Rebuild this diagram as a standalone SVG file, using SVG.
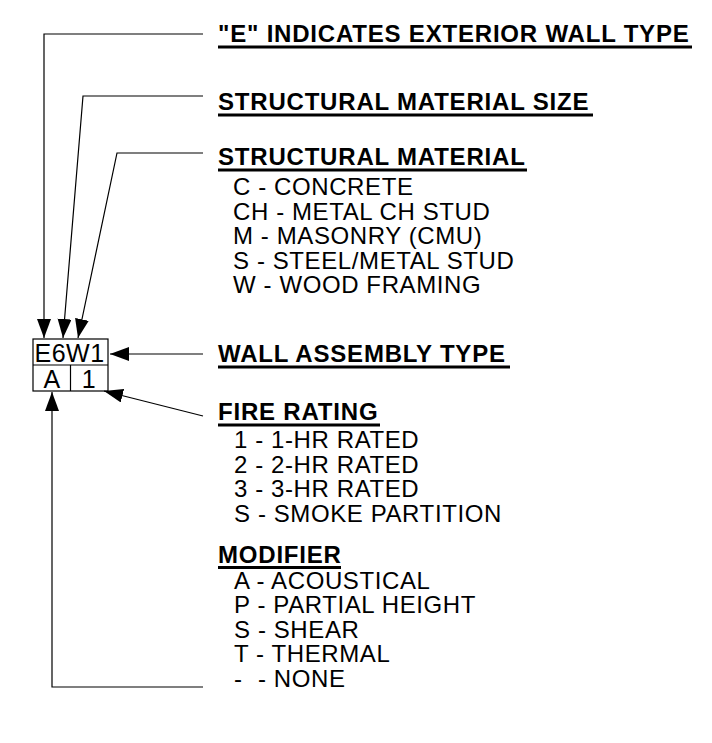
<svg xmlns="http://www.w3.org/2000/svg" width="712" height="743" viewBox="0 0 712 743">
<style>
.h{font-family:"Liberation Sans",Arial,sans-serif;font-weight:bold;font-size:24px;letter-spacing:0.8px;fill:#000}
.b{font-family:"Liberation Sans",Arial,sans-serif;font-size:24px;letter-spacing:0.6px;fill:#000}
.t{font-family:"Liberation Sans",Arial,sans-serif;font-size:25px;letter-spacing:0.5px;fill:#000}
.u{stroke:#000;stroke-width:3;fill:none}
.c{stroke:#000;stroke-width:1.2;fill:none}
.bx{stroke:#000;stroke-width:1.2;fill:none}
</style>
<defs>
<marker id="ah" markerUnits="userSpaceOnUse" markerWidth="20" markerHeight="15" refX="19" refY="7" orient="auto">
<path d="M0,0 L19,7 L0,14 z" fill="#000"/>
</marker>
</defs>
<rect width="712" height="743" fill="#fff"/>
<g id="connectors">
<polyline class="c" points="203,34 44,34 44,338" marker-end="url(#ah)"/>
<polyline class="c" points="203,96 83,96 63,338" marker-end="url(#ah)"/>
<polyline class="c" points="203,153 117,153 78,338" marker-end="url(#ah)"/>
<polyline class="c" points="203,354 110,354" marker-end="url(#ah)"/>
<polyline class="c" points="203,416 104,391" marker-end="url(#ah)"/>
<polyline class="c" points="203,687 52,687 52,392" marker-end="url(#ah)"/>
</g>
<g id="tag">
<rect class="bx" x="33" y="339" width="75" height="52"/>
<line class="bx" x1="33" y1="365" x2="108" y2="365"/>
<line class="bx" x1="70.5" y1="365" x2="70.5" y2="391"/>
<text class="t" x="34.5" y="362">E6W1</text>
<text class="t" x="52" y="388" text-anchor="middle">A</text>
<text class="t" x="89" y="388" text-anchor="middle">1</text>
</g>
<g id="exterior">
<text class="h" x="218" y="41.5">"E" INDICATES EXTERIOR WALL TYPE</text>
<line class="u" x1="218" y1="47" x2="692" y2="47"/>
</g>
<g id="size">
<text class="h" x="218" y="109.5">STRUCTURAL MATERIAL SIZE</text>
<line class="u" x1="218" y1="115" x2="593" y2="115"/>
</g>
<g id="material">
<text class="h" x="218" y="164.5">STRUCTURAL MATERIAL</text>
<line class="u" x1="218" y1="170" x2="527" y2="170"/>
<text class="b" x="233" y="195">C - CONCRETE</text>
<text class="b" x="233" y="219.5">CH - METAL CH STUD</text>
<text class="b" x="233" y="244">M - MASONRY (CMU)</text>
<text class="b" x="233" y="268.5">S - STEEL/METAL STUD</text>
<text class="b" x="233" y="293">W - WOOD FRAMING</text>
</g>
<g id="assembly">
<text class="h" x="218" y="361.5">WALL ASSEMBLY TYPE</text>
<line class="u" x1="218" y1="367" x2="510" y2="367"/>
</g>
<g id="fire">
<text class="h" x="218" y="419.5">FIRE RATING</text>
<line class="u" x1="218" y1="425" x2="380" y2="425"/>
<text class="b" x="234" y="448">1 - 1-HR RATED</text>
<text class="b" x="234" y="472.5">2 - 2-HR RATED</text>
<text class="b" x="234" y="497">3 - 3-HR RATED</text>
<text class="b" x="234" y="521.5">S - SMOKE PARTITION</text>
</g>
<g id="modifier">
<text class="h" x="218" y="562.5">MODIFIER</text>
<line class="u" x1="218" y1="567.5" x2="341" y2="567.5"/>
<text class="b" x="234" y="588.5">A - ACOUSTICAL</text>
<text class="b" x="234" y="613">P - PARTIAL HEIGHT</text>
<text class="b" x="234" y="637.5">S - SHEAR</text>
<text class="b" x="234" y="662">T - THERMAL</text>
<text class="b" y="686.5"><tspan x="234">-</tspan><tspan x="258">- NONE</tspan></text>
</g>
</svg>
